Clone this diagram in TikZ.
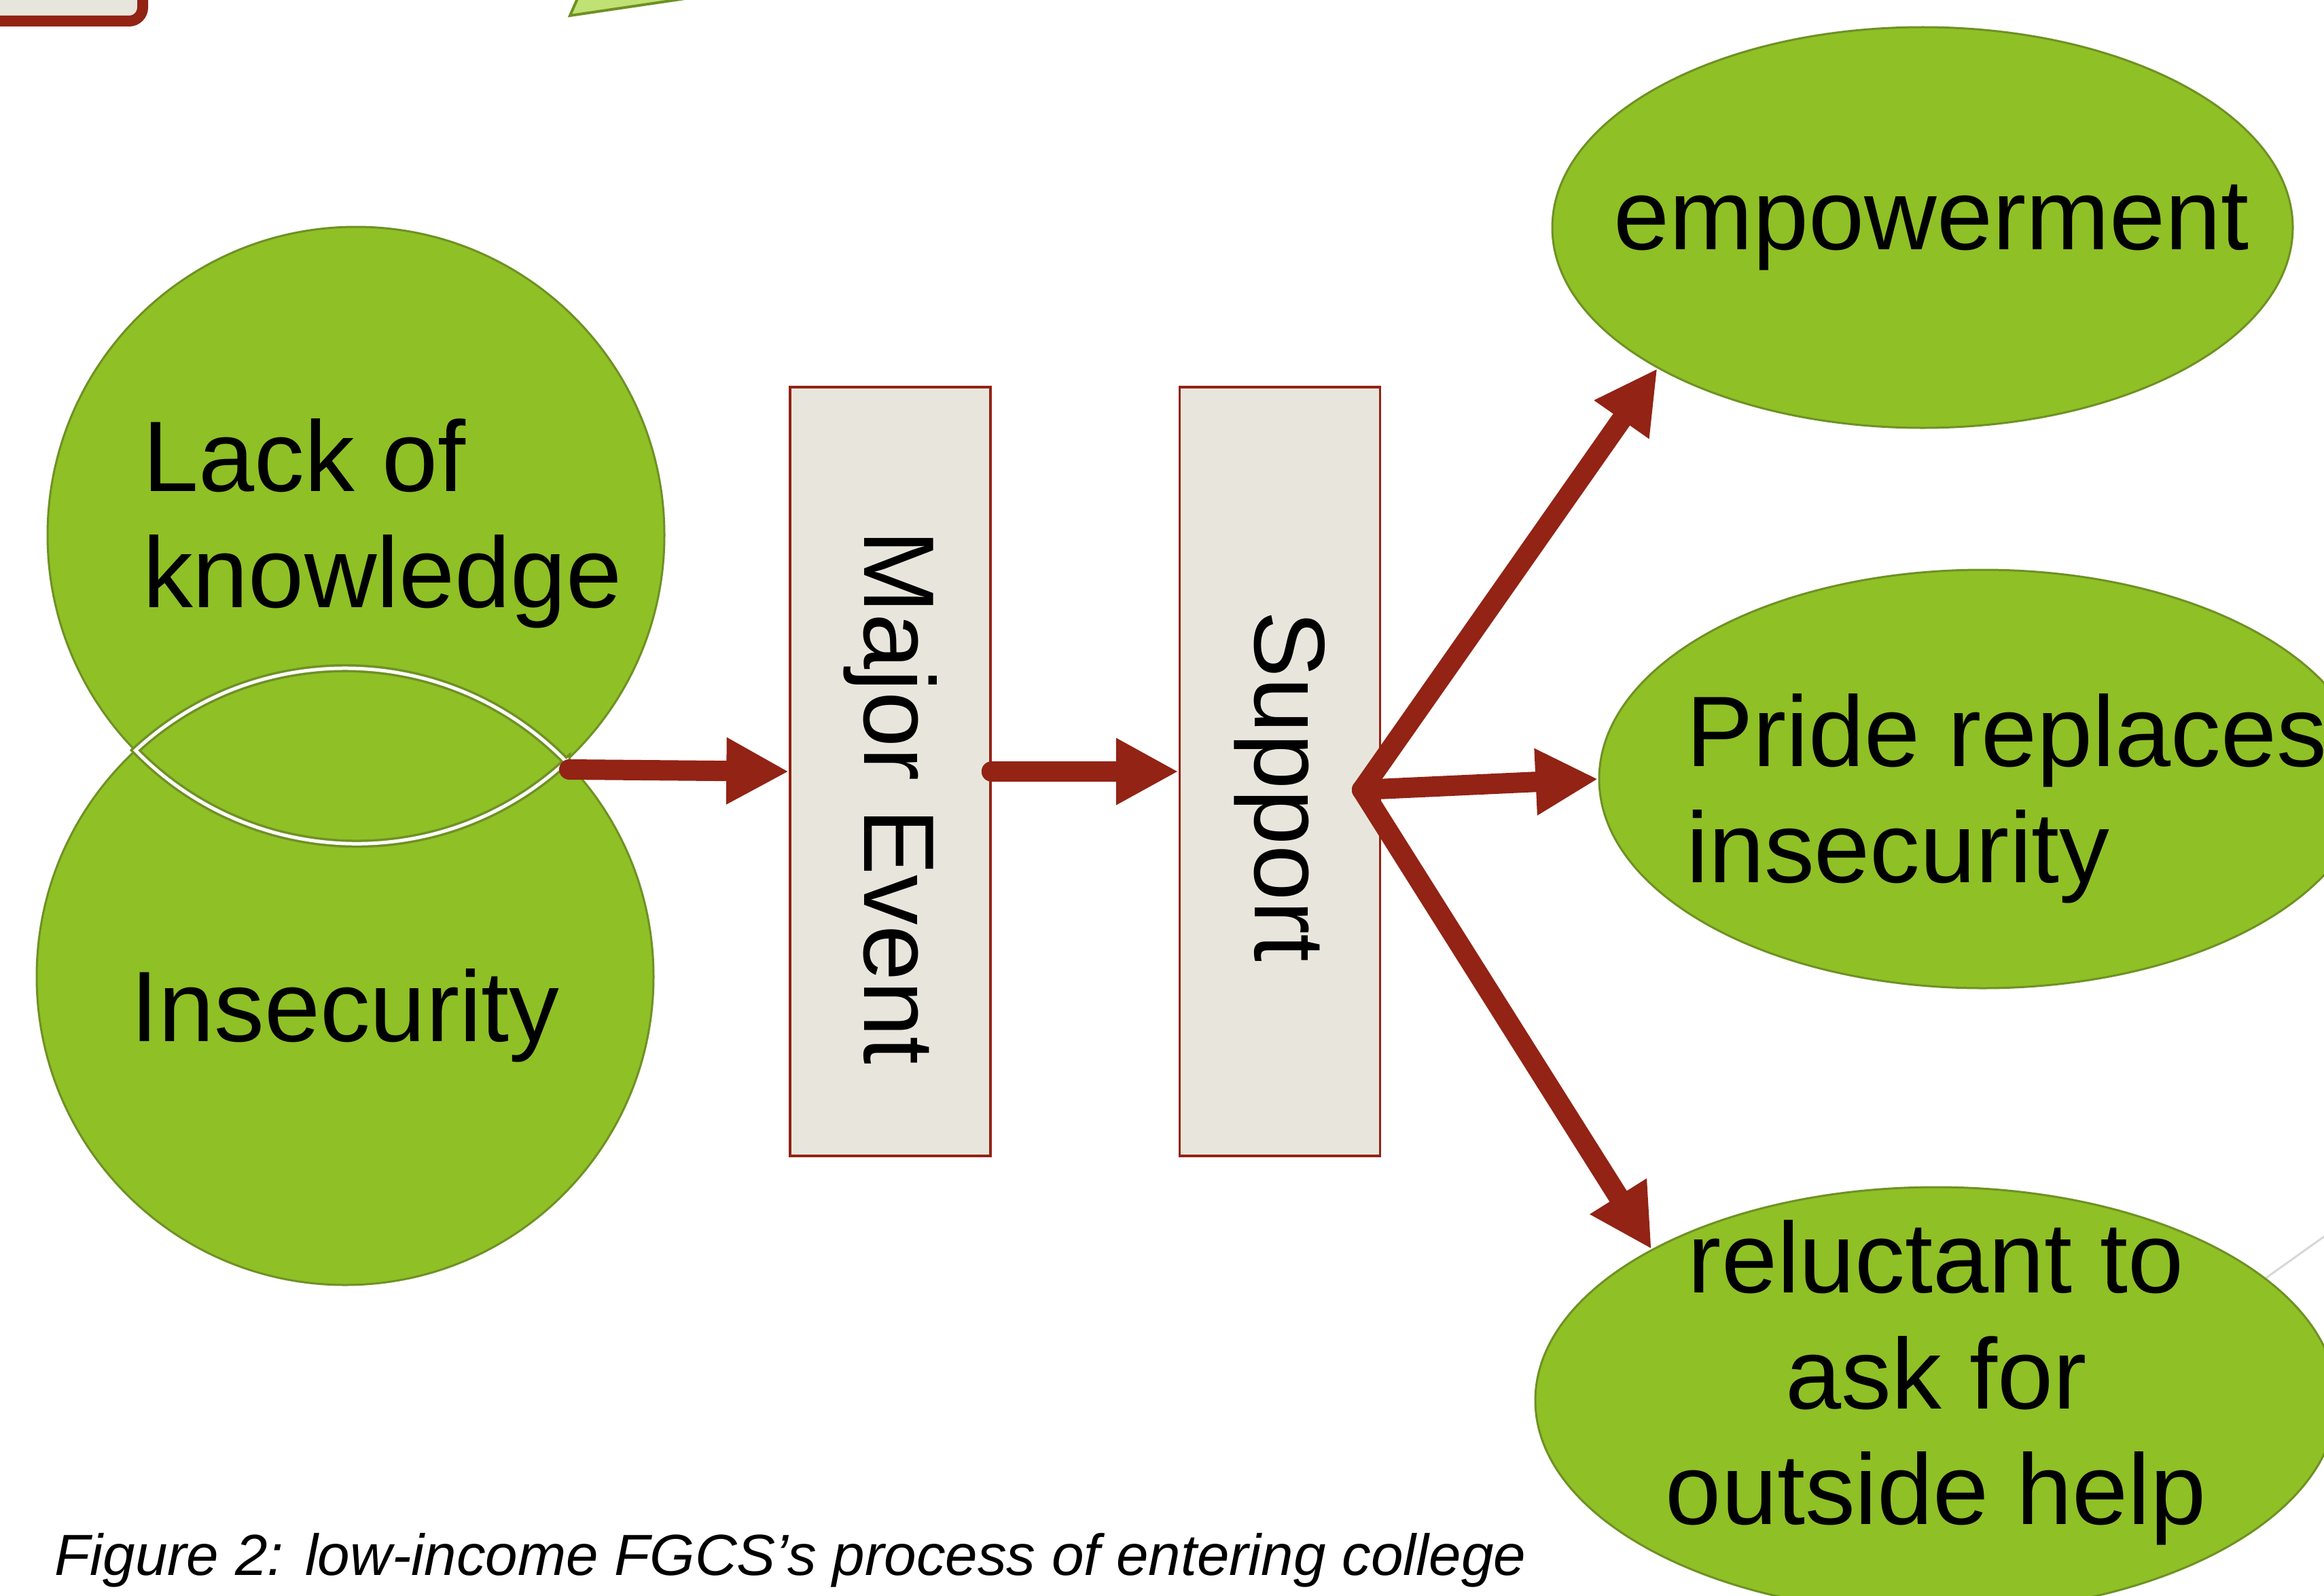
\documentclass[tikz,border=0pt]{standalone}
\usepackage{fontspec}
\setmainfont{Liberation Sans}
\usepackage{xcolor}
\usepackage{tikz}
\usetikzlibrary{positioning,shapes.geometric,arrows.meta}
\tikzset{c-circle/.style={circle, minimum size=9.08cm, inner sep=0pt, draw=c_greenline, line width=0.03cm, fill=c_green, font=\fontsize{42}{48.4}\selectfont},
c-ellipse/.style={ellipse, inner sep=-1.5cm, draw=c_greenline, line width=0.03cm, fill=c_green, font=\fontsize{42}{48.4}\selectfont},
c-box/.style={rectangle, rotate=-90, minimum width=11.32cm, minimum height=2.95cm, inner sep=0pt, draw=c_red, line width=0.035cm, fill=c_beige, font=\fontsize{42}{48.4}\selectfont},
c-lens/.style={draw=c_greenline, line width=0.035cm, double=white, double distance=0.05cm, fill=c_green},
arrow/.style={c_red, line width=0.3cm, line cap=round, -{Triangle[length=0.92cm,width=0.92cm]}}}
\definecolor{c_green}{RGB}{143,192,38}
\definecolor{c_greenline}{RGB}{110,145,35}
\definecolor{c_lightgreen}{RGB}{192,226,116}
\definecolor{c_red}{RGB}{146,35,21}
\definecolor{c_beige}{RGB}{232,230,220}
\definecolor{c_gray}{RGB}{215,215,215}
\begin{document}
\begin{tikzpicture}[node distance = 2cm]
\path[use as bounding box, clip] (0,0) rectangle (34.21,-23.5);
\draw[c_red, line width=0.16cm, fill=c_beige, rounded corners=0.2cm] (-1,1) rectangle (2.10,-0.31);
\draw[c_greenline, line width=0.04cm, fill=c_lightgreen] (8.39,-0.23) -- (8.58,0.2) -- (11.3,0.2) -- cycle;
\draw[c_gray, line width=0.03cm] (33.0,-19.07) -- (34.6,-17.93);
\node (lack) [c-circle] at (5.24,-7.88) {\raisebox{0.13cm}[\height][\depth]{\begin{tabular}{@{\hspace{0.78cm}}l@{}}Lack of\\knowledge\end{tabular}}};
\node (insec) [below of=lack, yshift=-4.5cm, xshift=-0.16cm, c-circle] {\raisebox{-0.57cm}[\height][\depth]{Insecurity}};
\coordinate (lensR) at (8.34,-11.22);
\draw[c-lens] (lensR) arc[start angle=44.1, end angle=132.8, radius=4.54] arc[start angle=224.2, end angle=312.9, radius=4.54] -- cycle;
\node (event) [c-box] at (13.105,-11.36) {\hspace*{0.76cm}Major Event};
\node (support) [right of=event, xshift=3.735cm, c-box] {\hspace*{0.44cm}Support};
\node (empow) [c-ellipse, minimum width=10.9cm, minimum height=5.9cm] at (28.30,-3.35) {\hspace*{0.26cm}empowerment};
\node (pride) [below of=empow, yshift=-6.12cm, xshift=0.89cm, c-ellipse, minimum width=11.3cm, minimum height=6.16cm] {\raisebox{-0.33cm}[\height][\depth]{\begin{tabular}{@{\hspace{0.7cm}}l@{}}Pride replaces\\insecurity\end{tabular}}};
\node (reluct) [below of=pride, yshift=-7.15cm, xshift=-0.69cm, c-ellipse, minimum width=11.8cm, minimum height=6.28cm] {\raisebox{0.22cm}[\height][\depth]{\begin{tabular}{@{}c@{}}reluctant to\\ask for\\outside help\end{tabular}}};
\coordinate (a0) at (8.38,-11.33);
\coordinate (fan) at (20.05,-11.63);
\draw [arrow] (a0) -- (event.south);
\draw [arrow] (event.north) -- (support.south);
\draw [arrow] (fan) -- (empow.208);
\draw [arrow] (fan) -- (pride.west);
\draw [arrow] (fan) -- (reluct.152);
\node (caption) [anchor=base west, font=\fontsize{24.3}{29}\selectfont\itshape] at (0.68,-23.19) {Figure 2: low-income FGCS’s process of entering college};
\end{tikzpicture}
\end{document}
